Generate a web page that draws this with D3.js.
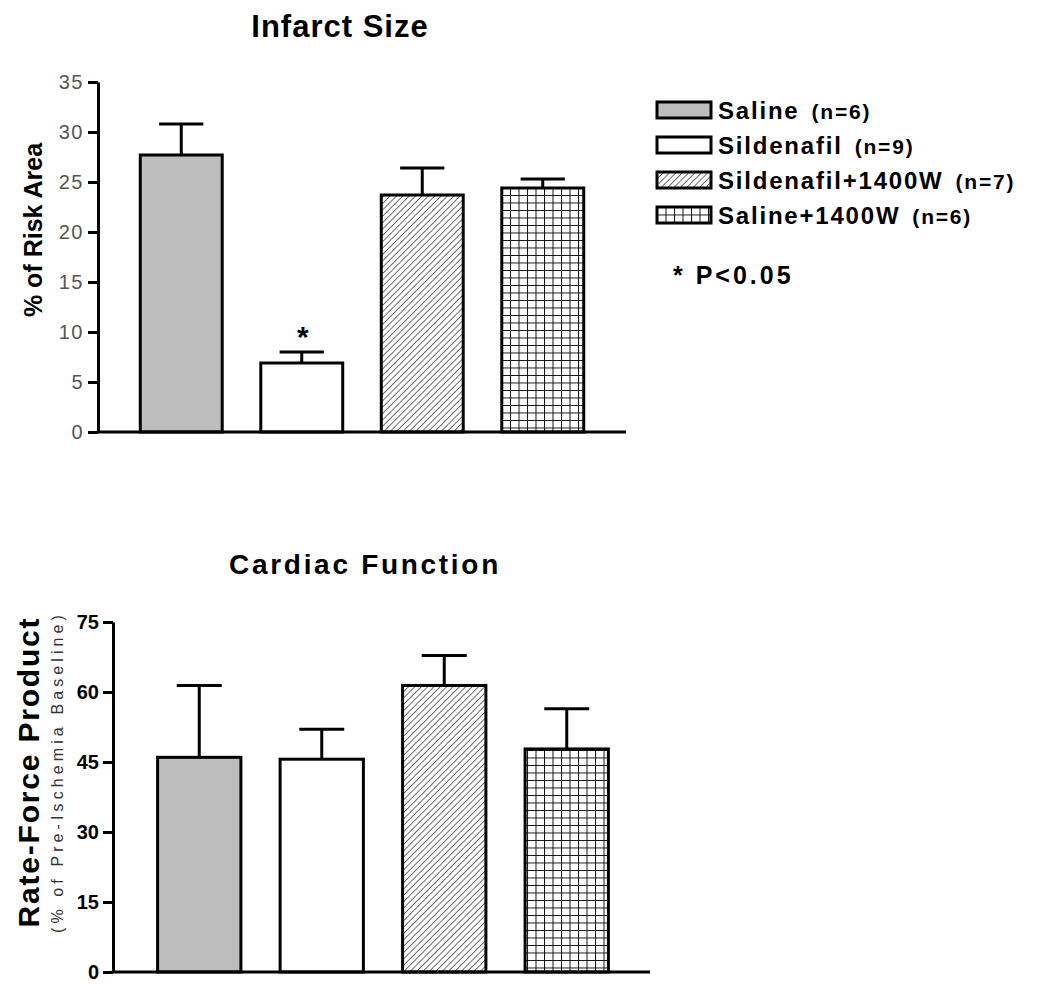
<!DOCTYPE html>
<html>
<head>
<meta charset="utf-8">
<script src="https://cdn.jsdelivr.net/npm/d3@7"></script>
<style>
  body { margin: 0; background: #fff; }
  svg { display: block; }
</style>
</head>
<body>
<div id="chart"></div>
<script>
// groups and values
const groups = ["Saline", "Sildenafil", "Sildenafil+1400W", "Saline+1400W"];
const groupN = ["(n=6)", "(n=9)", "(n=7)", "(n=6)"];
const infarctMean = [27.7, 6.9, 23.7, 24.4];
const infarctSem = [3.1, 1.1, 2.7, 0.9];
const infarctTicks = [0, 5, 10, 15, 20, 25, 30, 35];
const rfpMean = [46.0, 45.6, 61.4, 47.8];
const rfpSem = [15.4, 6.4, 6.4, 8.6];
const rfpTicks = [0, 15, 30, 45, 60, 75];
const significant = [false, true, false, false];

const width = 1038, height = 984;
const font = "Liberation Sans, Arial, sans-serif";
const svg = d3.select("#chart").append("svg")
    .attr("width", width)
    .attr("height", height);

// fill patterns
const defs = svg.append("defs");
const hatch = defs.append("pattern")
    .attr("id", "hatch")
    .attr("patternUnits", "userSpaceOnUse")
    .attr("width", 4.5).attr("height", 4.5)
    .attr("patternTransform", "rotate(45)");
hatch.append("rect").attr("width", 4.5).attr("height", 4.5).attr("fill", "#fff");
hatch.append("line").attr("x1", 0).attr("y1", 0).attr("x2", 0).attr("y2", 4.5)
    .attr("stroke", "#222").attr("stroke-width", 1.3);

const grid = defs.append("pattern")
    .attr("id", "grid")
    .attr("patternUnits", "userSpaceOnUse")
    .attr("width", 8.5).attr("height", 7.5);
grid.append("rect").attr("width", 8.5).attr("height", 7.5).attr("fill", "#fff");
grid.append("path").attr("d", "M0,0H8.5M0,0V7.5")
    .attr("stroke", "#111").attr("stroke-width", 2).attr("fill", "none");

const fills = ["#bdbdbd", "#ffffff", "url(#hatch)", "url(#grid)"];

function drawPanel(opts) {
    const g = svg.append("g");
    const y = d3.scaleLinear().domain(opts.domain).range(opts.yRange);
    const x = d3.scaleBand().domain(groups).range(opts.xRange)
        .paddingInner(0.32).paddingOuter(0.16);

    // bars
    g.selectAll("rect.bar")
        .data(groups)
        .enter().append("rect")
        .attr("class", "bar")
        .attr("x", d => x(d))
        .attr("y", (d, i) => y(opts.mean[i]))
        .attr("width", x.bandwidth())
        .attr("height", (d, i) => y(0) - y(opts.mean[i]))
        .attr("fill", (d, i) => fills[i])
        .attr("stroke", "#000")
        .attr("stroke-width", 3);

    // upper error bars
    const cap = x.bandwidth() * 0.27;
    groups.forEach((d, i) => {
        const cx = x(d) + x.bandwidth() / 2;
        const top = y(opts.mean[i] + opts.sem[i]);
        g.append("line")
            .attr("x1", cx).attr("x2", cx)
            .attr("y1", y(opts.mean[i])).attr("y2", top)
            .attr("stroke", "#000").attr("stroke-width", 3);
        g.append("line")
            .attr("x1", cx - cap).attr("x2", cx + cap)
            .attr("y1", top).attr("y2", top)
            .attr("stroke", "#000").attr("stroke-width", 3);
        if (opts.stars && opts.stars[i]) {
            g.append("text")
                .attr("x", cx + 1).attr("y", top - 5)
                .attr("text-anchor", "middle")
                .attr("font-family", font)
                .attr("font-weight", "bold")
                .attr("font-size", 30)
                .text("*");
        }
    });

    // y axis
    const axis = g.append("g")
        .attr("transform", `translate(${opts.axisX},0)`)
        .call(d3.axisLeft(y).tickValues(opts.ticks).tickSize(10).tickSizeOuter(0).tickPadding(4));
    axis.select(".domain").attr("stroke", "#000").attr("stroke-width", 3);
    axis.selectAll(".tick line").attr("stroke", "#000").attr("stroke-width", 3);
    axis.selectAll(".tick text")
        .attr("font-family", font)
        .attr("font-weight", opts.tickWeight)
        .attr("font-size", opts.tickSize)
        .attr("letter-spacing", opts.tickSpacing)
        .attr("fill", opts.tickColor);

    // x axis line
    g.append("line")
        .attr("x1", opts.axisX - 1.5).attr("x2", opts.xEnd)
        .attr("y1", y(0)).attr("y2", y(0))
        .attr("stroke", "#000").attr("stroke-width", 3);

    // title
    g.append("text")
        .attr("x", opts.titleX).attr("y", opts.titleY)
        .attr("text-anchor", "middle")
        .attr("font-family", font)
        .attr("font-weight", "bold")
        .attr("font-size", opts.titleSize)
        .attr("letter-spacing", opts.titleSpacing)
        .text(opts.title);

    return { x, y, g };
}

drawPanel({
    domain: [0, 35], yRange: [432, 82], xRange: [121, 603],
    mean: infarctMean, sem: infarctSem, ticks: infarctTicks, stars: significant,
    axisX: 98, xEnd: 626,
    tickWeight: "normal", tickSize: 20, tickSpacing: 1.5, tickColor: "#555",
    title: "Infarct Size", titleX: 340, titleY: 37, titleSize: 31, titleSpacing: 1
});

drawPanel({
    domain: [0, 75], yRange: [972, 622], xRange: [138, 628],
    mean: rfpMean, sem: rfpSem, ticks: rfpTicks,
    axisX: 113, xEnd: 650,
    tickWeight: "bold", tickSize: 20, tickSpacing: 0, tickColor: "#000",
    title: "Cardiac Function", titleX: 365, titleY: 574, titleSize: 28, titleSpacing: 2.7
});

// y axis labels
svg.append("text")
    .attr("transform", "translate(42,230) rotate(-90)")
    .attr("text-anchor", "middle")
    .attr("font-family", font)
    .attr("font-weight", "bold")
    .attr("font-size", 25)
    .text("% of Risk Area");

svg.append("text")
    .attr("transform", "translate(39,772) rotate(-90)")
    .attr("text-anchor", "middle")
    .attr("font-family", font)
    .attr("font-weight", "bold")
    .attr("font-size", 30)
    .attr("letter-spacing", 1.8)
    .text("Rate-Force Product");

svg.append("text")
    .attr("transform", "translate(63,772) rotate(-90)")
    .attr("text-anchor", "middle")
    .attr("font-family", font)
    .attr("font-size", 16)
    .attr("letter-spacing", 4.1)
    .attr("fill", "#333")
    .text("(% of Pre-Ischemia Baseline)");

// legend
const legend = svg.append("g").attr("transform", "translate(657,102)");
const rowH = 35;
groups.forEach((d, i) => {
    const row = legend.append("g").attr("transform", `translate(0,${i * rowH})`);
    row.append("rect")
        .attr("width", 54).attr("height", 16)
        .attr("fill", fills[i])
        .attr("stroke", "#000").attr("stroke-width", 3);
    const t = row.append("text")
        .attr("x", 61).attr("y", 17)
        .attr("font-family", font)
        .attr("font-weight", "bold")
        .attr("font-size", 24)
        .attr("letter-spacing", 1.8);
    t.append("tspan").text(d);
    t.append("tspan").attr("dx", 12).attr("font-size", 21).text(groupN[i]);
});

svg.append("text")
    .attr("x", 673).attr("y", 284)
    .attr("font-family", font)
    .attr("font-weight", "bold")
    .attr("font-size", 25)
    .attr("letter-spacing", 3)
    .text("* P<0.05");
</script>
</body>
</html>
